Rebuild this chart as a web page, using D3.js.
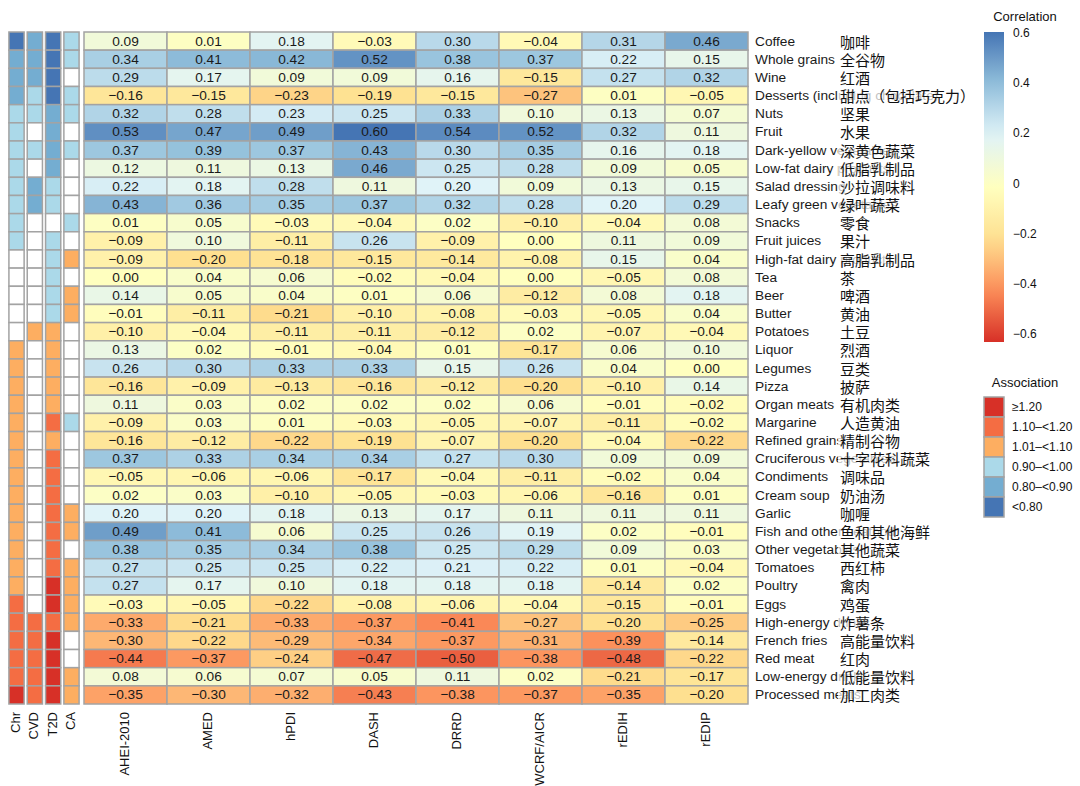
<!DOCTYPE html>
<html>
<head>
<meta charset="utf-8">
<script src="https://cdn.jsdelivr.net/npm/d3@7"></script>
<style>
  body { margin: 0; background: #fff; }
  svg { display: block; font-family: "Liberation Sans", Arial, sans-serif; }
</style>
</head>
<body>
<svg id="chart" width="1080" height="786"></svg>
<script>
// ---- data ----
const foods = ['Coffee', 'Whole grains', 'Wine', 'Desserts (including chocolate)', 'Nuts', 'Fruit',
  'Dark-yellow vegetables', 'Low-fat dairy products', 'Salad dressing', 'Leafy green vegetables',
  'Snacks', 'Fruit juices', 'High-fat dairy products', 'Tea', 'Beer', 'Butter', 'Potatoes', 'Liquor',
  'Legumes', 'Pizza', 'Organ meats', 'Margarine', 'Refined grains', 'Cruciferous vegetables',
  'Condiments', 'Cream soup', 'Garlic', 'Fish and other seafood', 'Other vegetables', 'Tomatoes',
  'Poultry', 'Eggs', 'High-energy drinks', 'French fries', 'Red meat', 'Low-energy drinks',
  'Processed meats'];

const foodsZh = ['咖啡', '全谷物', '红酒', '甜点（包括巧克力）', '坚果', '水果', '深黄色蔬菜', '低脂乳制品',
  '沙拉调味料', '绿叶蔬菜', '零食', '果汁', '高脂乳制品', '茶', '啤酒', '黄油', '土豆', '烈酒', '豆类',
  '披萨', '有机肉类', '人造黄油', '精制谷物', '十字花科蔬菜', '调味品', '奶油汤', '咖喱', '鱼和其他海鲜',
  '其他蔬菜', '西红柿', '禽肉', '鸡蛋', '炸薯条', '高能量饮料', '红肉', '低能量饮料', '加工肉类'];

const indices = ['AHEI-2010', 'AMED', 'hPDI', 'DASH', 'DRRD', 'WCRF/AICR', 'rEDIH', 'rEDIP'];

// one row per food, one value per index
const corr = [
  [0.09, 0.01, 0.18, -0.03, 0.30, -0.04, 0.31, 0.46],
  [0.34, 0.41, 0.42, 0.52, 0.38, 0.37, 0.22, 0.15],
  [0.29, 0.17, 0.09, 0.09, 0.16, -0.15, 0.27, 0.32],
  [-0.16, -0.15, -0.23, -0.19, -0.15, -0.27, 0.01, -0.05],
  [0.32, 0.28, 0.23, 0.25, 0.33, 0.10, 0.13, 0.07],
  [0.53, 0.47, 0.49, 0.60, 0.54, 0.52, 0.32, 0.11],
  [0.37, 0.39, 0.37, 0.43, 0.30, 0.35, 0.16, 0.18],
  [0.12, 0.11, 0.13, 0.46, 0.25, 0.28, 0.09, 0.05],
  [0.22, 0.18, 0.28, 0.11, 0.20, 0.09, 0.13, 0.15],
  [0.43, 0.36, 0.35, 0.37, 0.32, 0.28, 0.20, 0.29],
  [0.01, 0.05, -0.03, -0.04, 0.02, -0.10, -0.04, 0.08],
  [-0.09, 0.10, -0.11, 0.26, -0.09, 0.00, 0.11, 0.09],
  [-0.09, -0.20, -0.18, -0.15, -0.14, -0.08, 0.15, 0.04],
  [0.00, 0.04, 0.06, -0.02, -0.04, 0.00, -0.05, 0.08],
  [0.14, 0.05, 0.04, 0.01, 0.06, -0.12, 0.08, 0.18],
  [-0.01, -0.11, -0.21, -0.10, -0.08, -0.03, -0.05, 0.04],
  [-0.10, -0.04, -0.11, -0.11, -0.12, 0.02, -0.07, -0.04],
  [0.13, 0.02, -0.01, -0.04, 0.01, -0.17, 0.06, 0.10],
  [0.26, 0.30, 0.33, 0.33, 0.15, 0.26, 0.04, 0.00],
  [-0.16, -0.09, -0.13, -0.16, -0.12, -0.20, -0.10, 0.14],
  [0.11, 0.03, 0.02, 0.02, 0.02, 0.06, -0.01, -0.02],
  [-0.09, 0.03, 0.01, -0.03, -0.05, -0.07, -0.11, -0.02],
  [-0.16, -0.12, -0.22, -0.19, -0.07, -0.20, -0.04, -0.22],
  [0.37, 0.33, 0.34, 0.34, 0.27, 0.30, 0.09, 0.09],
  [-0.05, -0.06, -0.06, -0.17, -0.04, -0.11, -0.02, 0.04],
  [0.02, 0.03, -0.10, -0.05, -0.03, -0.06, -0.16, 0.01],
  [0.20, 0.20, 0.18, 0.13, 0.17, 0.11, 0.11, 0.11],
  [0.49, 0.41, 0.06, 0.25, 0.26, 0.19, 0.02, -0.01],
  [0.38, 0.35, 0.34, 0.38, 0.25, 0.29, 0.09, 0.03],
  [0.27, 0.25, 0.25, 0.22, 0.21, 0.22, 0.01, -0.04],
  [0.27, 0.17, 0.10, 0.18, 0.18, 0.18, -0.14, 0.02],
  [-0.03, -0.05, -0.22, -0.08, -0.06, -0.04, -0.15, -0.01],
  [-0.33, -0.21, -0.33, -0.37, -0.41, -0.27, -0.20, -0.25],
  [-0.30, -0.22, -0.29, -0.34, -0.37, -0.31, -0.39, -0.14],
  [-0.44, -0.37, -0.24, -0.47, -0.50, -0.38, -0.48, -0.22],
  [0.08, 0.06, 0.07, 0.05, 0.11, 0.02, -0.21, -0.17],
  [-0.35, -0.30, -0.32, -0.43, -0.38, -0.37, -0.35, -0.20]
];

// association levels, strongest harm first
const assocLevels = ['≥1.20', '1.10–<1.20', '1.01–<1.10', '0.90–<1.00', '0.80–<0.90', '<0.80'];
const outcomes = ['Chr', 'CVD', 'T2D', 'CA'];
// codes: R ≥1.20, O 1.10–<1.20, L 1.01–<1.10, b 0.90–<1.00, m 0.80–<0.90, B <0.80, . none
const assocChr = ['B','m','m','m','b','b','b','b','b','b','b','b','.','.','.','.','.','L','L','L','L','L','L','L','L','L','L','L','L','L','L','O','O','O','O','O','R'];
const assocCVD = ['m','m','m','b','b','.','b','.','m','m','.','.','.','.','.','.','L','.','.','.','.','.','.','.','.','.','.','.','.','.','.','.','O','O','O','O','O'];
const assocT2D = ['B','B','B','B','m','m','m','m','b','b','.','b','b','b','b','b','L','L','L','L','L','O','L','O','O','O','O','O','O','O','R','R','O','R','R','R','R'];
const assocCA = ['b','b','.','b','b','.','b','.','.','.','b','.','L','.','L','L','.','.','.','.','.','b','.','.','.','.','L','L','.','L','L','L','L','.','.','L','L'];

const corrTicks = [0.6, 0.4, 0.2, 0, -0.2, -0.4, -0.6];

// ---- scales ----
const codeOrder = ['R', 'O', 'L', 'b', 'm', 'B'];
const assocColor = d3.scaleOrdinal()
  .domain(codeOrder)
  .range(['#d73027', '#f46d43', '#fdae61', '#abd9e9', '#74add1', '#4575b4'])
  .unknown('#ffffff');

const corrColor = d3.scaleLinear()
  .domain([-0.6, -0.4, -0.2, 0, 0.2, 0.4, 0.6])
  .range(['#d73027', '#fc8d59', '#fee090', '#ffffbf', '#e0f3f8', '#91bfdb', '#4575b4'])
  .interpolate(d3.interpolateRgb)
  .clamp(true);

const gridTop = 32, gridBottom = 704;
const y = d3.scaleBand().domain(d3.range(foods.length)).range([gridTop, gridBottom]);
const x = d3.scaleBand().domain(indices).range([84, 748]);
const xa = d3.scaleBand().domain(outcomes).range([8, 80]).paddingInner(0.17).paddingOuter(0.05);

const svg = d3.select('#chart');
const grid = '#a3a3a3';
const fmt = v => (v < 0 ? '−' : '') + Math.abs(v).toFixed(2);

// ---- association strip ----
const assocCols = [assocChr, assocCVD, assocT2D, assocCA];
const gA = svg.append('g');
outcomes.forEach((o, j) => {
  gA.selectAll(null)
    .data(assocCols[j])
    .join('rect')
    .attr('x', xa(o))
    .attr('y', (d, i) => y(i))
    .attr('width', xa.bandwidth())
    .attr('height', y.bandwidth())
    .attr('fill', d => assocColor(d))
    .attr('stroke', grid)
    .attr('stroke-width', 1.5);
  gA.append('text')
    .attr('transform', `translate(${xa(o) + xa.bandwidth() / 2},712) rotate(-90)`)
    .attr('text-anchor', 'end')
    .attr('dominant-baseline', 'middle')
    .attr('font-size', 13)
    .attr('fill', '#111')
    .text(o);
});

// ---- correlation heatmap ----
const cells = [];
corr.forEach((row, i) => row.forEach((v, j) => cells.push({ i, k: indices[j], v })));

const gH = svg.append('g');
gH.selectAll('rect')
  .data(cells)
  .join('rect')
  .attr('x', d => x(d.k))
  .attr('y', d => y(d.i))
  .attr('width', x.bandwidth())
  .attr('height', y.bandwidth())
  .attr('fill', d => corrColor(d.v))
  .attr('stroke', grid)
  .attr('stroke-width', 1.5);

gH.selectAll('text.val')
  .data(cells)
  .join('text')
  .attr('class', 'val')
  .attr('x', d => x(d.k) + x.bandwidth() / 2)
  .attr('y', d => y(d.i) + y.bandwidth() / 2)
  .attr('text-anchor', 'middle')
  .attr('dominant-baseline', 'central')
  .attr('font-size', 13.7)
  .attr('fill', '#1a1a1a')
  .text(d => fmt(d.v));

// column labels
gH.selectAll('text.col')
  .data(indices)
  .join('text')
  .attr('class', 'col')
  .attr('transform', d => `translate(${x(d) + x.bandwidth() / 2},712) rotate(-90)`)
  .attr('text-anchor', 'end')
  .attr('dominant-baseline', 'middle')
  .attr('font-size', 13)
  .attr('fill', '#111')
  .text(d => d);

// ---- row labels (English, with Chinese laid over on a translucent box) ----
const gL = svg.append('g');
gL.selectAll('text.en')
  .data(foods)
  .join('text')
  .attr('class', 'en')
  .attr('x', 755)
  .attr('y', (d, i) => y(i) + y.bandwidth() / 2)
  .attr('dominant-baseline', 'central')
  .attr('font-size', 13.7)
  .attr('fill', '#1a1a1a')
  .text(d => d);

const zh = gL.selectAll('g.zh')
  .data(foodsZh)
  .join('g')
  .attr('class', 'zh');
zh.append('text')
  .attr('x', 840)
  .attr('y', (d, i) => y(i) + y.bandwidth() / 2)
  .attr('dominant-baseline', 'central')
  .attr('font-family', '"Noto Sans CJK SC", sans-serif')
  .attr('font-size', 15)
  .attr('fill', '#111')
  .text(d => d);
zh.each(function () {
  const t = d3.select(this).select('text');
  const b = t.node().getBBox();
  d3.select(this).insert('rect', 'text')
    .attr('x', b.x - 2)
    .attr('y', b.y + 2)
    .attr('width', b.width + 2)
    .attr('height', b.height - 4)
    .attr('fill', '#fff')
    .attr('fill-opacity', 0.72);
});

// ---- correlation legend ----
const gC = svg.append('g');
gC.append('text')
  .attr('x', 1025).attr('y', 16)
  .attr('text-anchor', 'middle')
  .attr('dominant-baseline', 'central')
  .attr('font-size', 13)
  .attr('fill', '#111')
  .text('Correlation');

const ly = d3.scaleLinear().domain([0.6, -0.6]).range([33, 334]);
const defs = svg.append('defs');
const grad = defs.append('linearGradient')
  .attr('id', 'corrGrad')
  .attr('x1', 0).attr('y1', 0).attr('x2', 0).attr('y2', 1);
d3.range(0, 1.0001, 0.05).forEach(t => {
  grad.append('stop')
    .attr('offset', t)
    .attr('stop-color', corrColor(0.6 - 1.2 * t));
});
gC.append('rect')
  .attr('x', 984).attr('y', ly(0.6) - 1)
  .attr('width', 20).attr('height', ly(-0.6) - ly(0.6) + 9)
  .attr('fill', 'url(#corrGrad)');
gC.selectAll('text.tick')
  .data(corrTicks)
  .join('text')
  .attr('class', 'tick')
  .attr('x', 1013)
  .attr('y', d => ly(d))
  .attr('dominant-baseline', 'central')
  .attr('font-size', 12)
  .attr('fill', '#111')
  .text(d => d === 0 ? '0' : (d < 0 ? '−' : '') + Math.abs(d));

// ---- association legend ----
const gS = svg.append('g');
gS.append('text')
  .attr('x', 1025).attr('y', 382)
  .attr('text-anchor', 'middle')
  .attr('dominant-baseline', 'central')
  .attr('font-size', 13)
  .attr('fill', '#111')
  .text('Association');
const sy = d3.scaleBand().domain(assocLevels).range([397, 517]);
gS.selectAll('rect')
  .data(assocLevels)
  .join('rect')
  .attr('x', 984)
  .attr('y', d => sy(d))
  .attr('width', 20)
  .attr('height', sy.bandwidth())
  .attr('fill', (d, i) => assocColor(codeOrder[i]))
  .attr('stroke', grid)
  .attr('stroke-width', 1.5);
gS.selectAll('text.lab')
  .data(assocLevels)
  .join('text')
  .attr('class', 'lab')
  .attr('x', 1012)
  .attr('y', d => sy(d) + sy.bandwidth() / 2)
  .attr('dominant-baseline', 'central')
  .attr('font-size', 12)
  .attr('fill', '#111')
  .text(d => d);
</script>
</body>
</html>
